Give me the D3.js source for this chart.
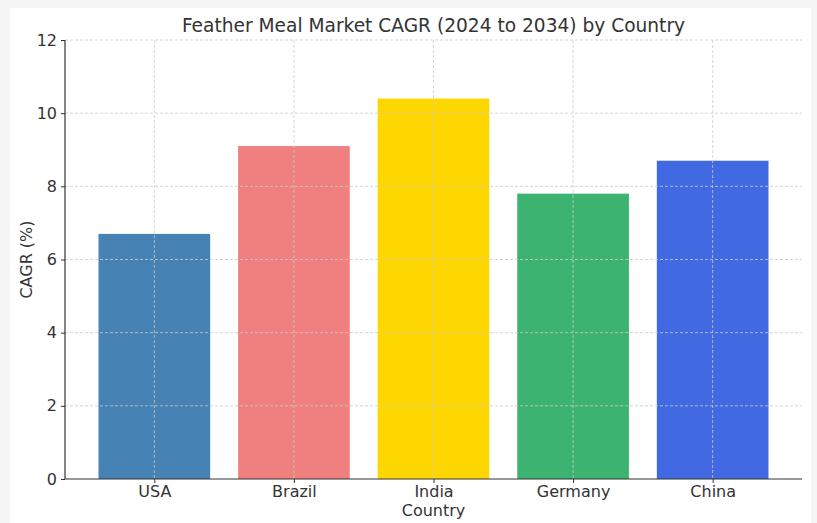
<!DOCTYPE html>
<html>
<head>
<meta charset="utf-8">
<script src="https://cdn.jsdelivr.net/npm/d3@7"></script>
<style>
  body { margin: 0; background: #f5f5f5; }
  svg { display: block; font-family: "DejaVu Sans", sans-serif; }
</style>
</head>
<body>
<div id="chart"></div>
<script>
const countries = ["USA", "Brazil", "India", "Germany", "China"];
const cagr = [6.7, 9.1, 10.4, 7.8, 8.7];
const barColors = ["#4682B4", "#F08080", "#FFD700", "#3CB371", "#4169E1"];
const yTicks = [0, 2, 4, 6, 8, 10, 12];

const width = 817;
const height = 523;
const plotLeft = 65, plotRight = 802, plotTop = 40, plotBottom = 479;
const textColor = "#333333";

const svg = d3.select("#chart")
    .append("svg")
    .attr("width", width)
    .attr("height", height);

// white panel on the light gray page
svg.append("rect")
    .attr("x", 10).attr("y", 8)
    .attr("width", 801).attr("height", 515)
    .attr("fill", "white");

// bars sit at 0..n-1 with width 0.8, margins like matplotlib
const x = d3.scaleLinear()
    .domain([-0.64, countries.length - 1 + 0.64])
    .range([plotLeft, plotRight]);
const y = d3.scaleLinear()
    .domain([0, 12])
    .range([plotBottom, plotTop]);

// bars
svg.append("g").selectAll("rect")
    .data(countries)
    .join("rect")
    .attr("x", (d, i) => x(i - 0.4))
    .attr("width", (d, i) => x(i + 0.4) - x(i - 0.4))
    .attr("y", (d, i) => y(cagr[i]))
    .attr("height", (d, i) => y(0) - y(cagr[i]))
    .attr("fill", (d, i) => barColors[i]);

// grid (drawn above the bars)
const grid = svg.append("g")
    .attr("stroke", "#cccccc")
    .attr("stroke-width", 0.8)
    .attr("stroke-dasharray", "3,2");
grid.selectAll(".gy")
    .data(yTicks.slice(1))
    .join("line")
    .attr("x1", plotLeft).attr("x2", plotRight)
    .attr("y1", d => y(d)).attr("y2", d => y(d));
grid.selectAll(".gx")
    .data(countries)
    .join("line")
    .attr("x1", (d, i) => x(i)).attr("x2", (d, i) => x(i))
    .attr("y1", plotTop).attr("y2", plotBottom);

// y axis
const yAxis = svg.append("g")
    .attr("transform", `translate(${plotLeft},0)`)
    .call(d3.axisLeft(y).tickValues(yTicks).tickSize(4).tickPadding(4).tickFormat(d3.format("d")));
yAxis.select(".domain").attr("stroke", textColor).attr("stroke-width", 1.2)
    .attr("d", `M0,${plotTop}V${plotBottom}`);
yAxis.selectAll(".tick line").attr("stroke", textColor);
yAxis.selectAll(".tick text")
    .attr("fill", textColor)
    .style("font-size", "16px")
    .style("font-family", "DejaVu Sans");

// x axis
const xAxis = svg.append("g")
    .attr("transform", `translate(0,${plotBottom})`)
    .call(d3.axisBottom(x).tickValues(d3.range(countries.length)).tickSize(4).tickPadding(3)
        .tickFormat(i => countries[i]));
xAxis.select(".domain").attr("stroke", textColor).attr("stroke-width", 1.2)
    .attr("d", `M${plotLeft},0H${plotRight}`);
xAxis.selectAll(".tick line").attr("stroke", textColor);
xAxis.selectAll(".tick text")
    .attr("fill", textColor)
    .style("font-size", "16px")
    .style("font-family", "DejaVu Sans");

// title and axis labels
svg.append("text")
    .attr("x", (plotLeft + plotRight) / 2)
    .attr("y", 32)
    .attr("text-anchor", "middle")
    .attr("fill", textColor)
    .style("font-size", "18.6px")
    .text("Feather Meal Market CAGR (2024 to 2034) by Country");

svg.append("text")
    .attr("x", (plotLeft + plotRight) / 2)
    .attr("y", 516)
    .attr("text-anchor", "middle")
    .attr("fill", textColor)
    .style("font-size", "16px")
    .text("Country");

svg.append("text")
    .attr("transform", `translate(32,${(plotTop + plotBottom) / 2}) rotate(-90)`)
    .attr("text-anchor", "middle")
    .attr("fill", textColor)
    .style("font-size", "16px")
    .text("CAGR (%)");
</script>
</body>
</html>
